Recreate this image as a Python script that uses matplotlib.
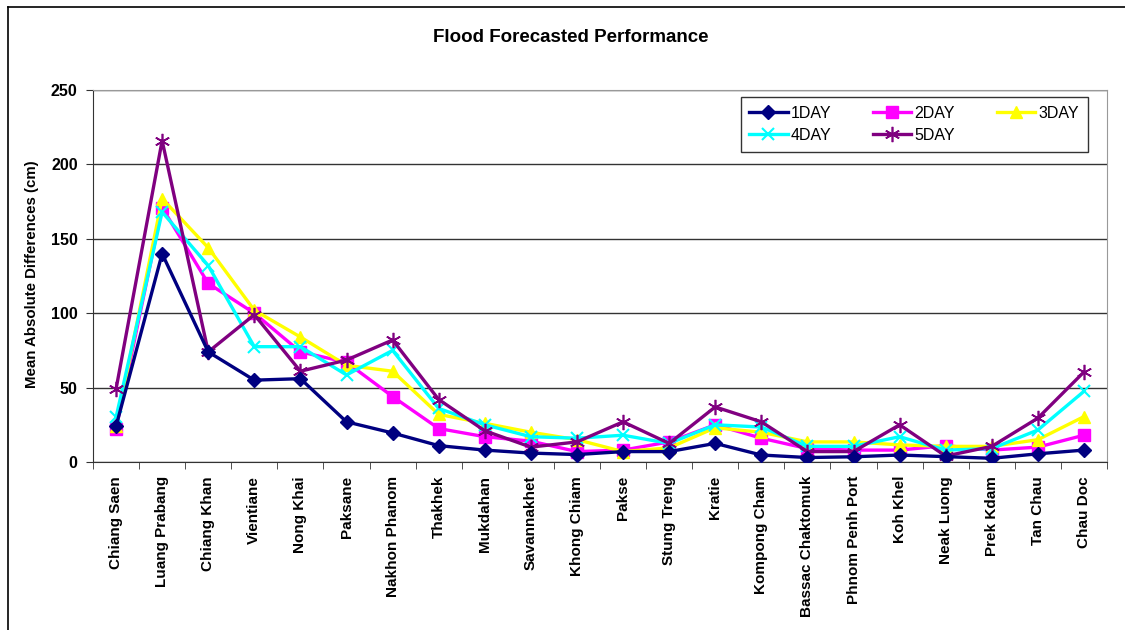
import numpy as np
import matplotlib
matplotlib.use('Agg')
import matplotlib.pyplot as plt
from matplotlib.lines import Line2D

plt.rcParams['font.family'] = ['Liberation Sans', 'DejaVu Sans']

stations = ['Chiang Saen', 'Luang Prabang', 'Chiang Khan', 'Vientiane', 'Nong Khai',
            'Paksane', 'Nakhon Phanom', 'Thakhek', 'Mukdahan', 'Savannakhet',
            'Khong Chiam', 'Pakse', 'Stung Treng', 'Kratie', 'Kompong Cham',
            'Bassac Chaktomuk', 'Phnom Penh Port', 'Koh Khel', 'Neak Luong',
            'Prek Kdam', 'Tan Chau', 'Chau Doc']

day1 = [24, 140, 74, 55, 56, 27, 19.5, 11, 8, 6, 5, 7, 7, 12.5, 4.7, 3, 3.5, 4.7, 3.6, 2.5, 5.5, 8]
day2 = [22.5, 171, 120, 100, 74, 67, 44, 22.5, 17, 14, 7, 8, 13.5, 25, 16, 9, 8, 8, 11, 8, 10, 18]
day3 = [24, 177, 144, 102, 84, 65, 61, 32, 26, 20, 15, 7, 9.5, 23, 20, 13.5, 13.5, 11.5, 10.5, 10.5, 15, 30.5]
day4 = [30, 168, 132, 77.5, 77.5, 58.5, 75, 36, 25, 17, 16, 18, 12.5, 25, 23.5, 10.5, 10.5, 17, 8, 9, 21.5, 47.5]
day5 = [49, 216, 74, 99, 61, 68.5, 82, 42, 21, 10, 13.5, 27, 12.5, 37, 27, 7, 7, 25, 4, 10.5, 29.5, 60.5]

fig = plt.figure(figsize=(11.25, 6.3), dpi=100)
ax = fig.add_axes([93 / 1125, 1 - 462 / 630, (1107 - 93) / 1125, (462 - 90) / 630])

x = np.arange(len(stations))
lw = 2.4
l1, = ax.plot(x, day1, color='#000080', lw=lw, marker='D', ms=7, label='1DAY', zorder=7)
l2, = ax.plot(x, day2, color='#FF00FF', lw=lw, marker='s', ms=8, label='2DAY', zorder=3)
l3, = ax.plot(x, day3, color='#FFFF00', lw=lw, marker='^', ms=9, label='3DAY', zorder=4)
l4, = ax.plot(x, day4, color='#00FFFF', lw=lw, marker='x', ms=9, mew=1.5, label='4DAY', zorder=5)
l5, = ax.plot(x, day5, color='#800080', lw=lw, marker=(6, 2, 0), ms=11, mew=1.2, label='5DAY', zorder=6)

ax.set_xlim(-0.5, len(stations) - 0.5)
ax.set_ylim(0, 250)
ax.set_yticks([0, 50, 100, 150, 200, 250])
ax.yaxis.grid(True, color='#333333', lw=1)
ax.set_axisbelow(True)

ax.set_xticks(x)
ax.set_xticklabels(stations, rotation=90, fontsize=11, fontweight='bold')
ax.tick_params(axis='x', which='major', length=0, pad=10)
ax.set_xticks(np.arange(-0.5, len(stations) + 0.5, 1), minor=True)
ax.tick_params(axis='x', which='minor', length=5, direction='out', color='#333333')
ax.tick_params(axis='y', length=5, direction='out', color='#333333', labelsize=11.5, pad=6)
for lab in ax.get_yticklabels():
    lab.set_fontweight('bold')

ax.spines['left'].set_color('#333333')
ax.spines['bottom'].set_color('#333333')
ax.spines['top'].set_color('#999999')
ax.spines['right'].set_color('#999999')

handles = [l1, l4, l2, l5, l3]
leg = ax.legend(handles=handles, ncol=3, loc='upper right', bbox_to_anchor=(0.981, 0.981),
                borderaxespad=0, fontsize=11.5, frameon=True, fancybox=False,
                handlelength=2.4, columnspacing=2.6, handletextpad=0.2, labelspacing=0.45,
                borderpad=0.55)
leg.get_frame().set_edgecolor('black')
leg.get_frame().set_linewidth(1)

fig.text(571 / 1125, 1 - 38 / 630, 'Flood Forecasted Performance', ha='center', va='center',
         fontsize=13.5, fontweight='bold')
fig.text(32.5 / 1125, 1 - 274 / 630, 'Mean Absolute Differences (cm)', ha='center', va='center',
         rotation=90, fontsize=10.8, fontweight='bold')

# outer chart frame (left and top edges visible)
fig.add_artist(Line2D([8 / 1125, 8 / 1125], [0, 1 - 7 / 630], transform=fig.transFigure,
                      color='black', lw=1.2))
fig.add_artist(Line2D([8 / 1125, 1], [1 - 7 / 630, 1 - 7 / 630], transform=fig.transFigure,
                      color='black', lw=1.2))

fig.savefig('out.png', dpi=100)
